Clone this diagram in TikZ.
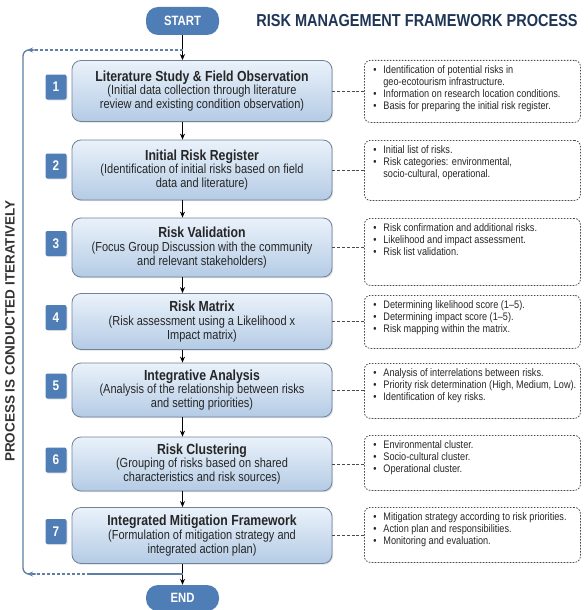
\documentclass[tikz,border=0pt]{standalone}
\usepackage{fontspec}
\setmainfont{Liberation Sans}[FakeStretch=0.84]
\newfontfamily\plainsans{Liberation Sans}
\usetikzlibrary{arrows.meta, shadows}

\definecolor{stepblue}{HTML}{4F7DB5}
\definecolor{boxtop}{HTML}{EAF2FA}
\definecolor{boxbottom}{HTML}{B4CBE5}
\definecolor{boxline}{HTML}{71829A}
\definecolor{loopblue}{HTML}{5E7FA5}
\definecolor{titlenavy}{HTML}{1F3556}
\definecolor{notegray}{HTML}{4A4A4A}

% bullet lines for the side notes
\newcommand{\bitem}[1]{\noindent\makebox[10pt][l]{\textbullet}\mbox{#1}\par}
\newcommand{\bcont}[1]{\noindent\hspace*{10pt}\mbox{#1}\par}
\newcommand{\notetext}[2]{\parbox[c][#1][t]{198pt}{\fontsize{10.9}{12}\selectfont #2}}
\newcommand{\steptitle}[1]{{\bfseries\fontsize{14.6}{13.5}\selectfont #1}}

\begin{document}
\begin{tikzpicture}[x=1pt, y=-1pt,
    stepbox/.style={draw=boxline, line width=0.8pt, rounded corners=9pt,
        top color=boxtop, bottom color=boxbottom,
        minimum width=260pt, align=center, inner sep=2pt,
        drop shadow={opacity=0.25, shadow xshift=1.2pt, shadow yshift=-1.2pt},
        font=\fontsize{13.1}{13.8}\selectfont, text=black!85},
    numbox/.style={fill=stepblue, text=white, rounded corners=2pt,
        minimum width=21pt, minimum height=25pt, inner sep=0pt,
        font=\bfseries\fontsize{14}{14}\selectfont,
        drop shadow={opacity=0.2, shadow xshift=1pt, shadow yshift=-1pt}},
    pill/.style={fill=stepblue, text=white, rounded corners=12pt,
        minimum width=73pt, minimum height=28pt, inner sep=0pt,
        font=\bfseries\fontsize{13.5}{13.5}\selectfont},
    note/.style={draw=notegray, dash pattern=on 1.6pt off 1.4pt, line width=0.8pt,
        rounded corners=6pt, inner xsep=9pt, inner ysep=5pt, anchor=north west,
        text=black!85},
    arrow/.style={-{Stealth[length=6pt, width=5pt]}, line width=1pt, black},
    link/.style={draw=notegray, dash pattern=on 3pt off 1.8pt, line width=0.9pt},
    loopline/.style={draw=loopblue, line width=1.3pt},
    loopdash/.style={loopline, dash pattern=on 3pt off 2pt, -{Stealth[length=6pt, width=5pt]}}]

    \useasboundingbox (0,0) rectangle (588,610);

    % -- Start, end and title --
    \node[pill] (start) at (182.5,21) {START};
    \node[pill, minimum height=26pt] (end) at (182.5,598) {END};
    \node[text=titlenavy, font=\bfseries\fontsize{17.3}{19}\selectfont] (title) at (417,21)
        {RISK MANAGEMENT FRAMEWORK PROCESS};

    % -- Process steps --
    \node[stepbox, minimum height=61pt] (s1) at (202,91) {\steptitle{Literature Study \& Field Observation}\\
        (Initial data collection through literature\\review and existing condition observation)};
    \node[stepbox, minimum height=60pt] (s2) at (202,170) {\steptitle{Initial Risk Register}\\
        (Identification of initial risks based on field\\data and literature)};
    \node[stepbox, minimum height=59pt] (s3) at (202,247.5) {\steptitle{Risk Validation}\\
        (Focus Group Discussion with the community\\and relevant stakeholders)};
    \node[stepbox, minimum height=56pt] (s4) at (202,321.5) {\steptitle{Risk Matrix}\\
        (Risk assessment using a Likelihood x\\Impact matrix)};
    \node[stepbox, minimum height=54pt] (s5) at (202,390) {\steptitle{Integrative Analysis}\\
        (Analysis of the relationship between risks\\and setting priorities)};
    \node[stepbox, minimum height=54pt] (s6) at (202,464) {\steptitle{Risk Clustering}\\
        (Grouping of risks based on shared\\characteristics and risk sources)};
    \node[stepbox, minimum height=56pt] (s7) at (202,535.5) {\steptitle{Integrated Mitigation Framework}\\
        (Formulation of mitigation strategy and\\integrated action plan)};

    % -- Step numbers --
    \foreach \i in {1,...,7} {
        \node[numbox, yshift=4pt] (num\i) at (56,0 |- s\i) {\i};
    }

    % -- Side notes --
    \node[note] (n1) at (364,60) {\notetext{52pt}{%
        \bitem{Identification of potential risks in}
        \bcont{geo-ecotourism infrastructure.}
        \bitem{Information on research location conditions.}
        \bitem{Basis for preparing the initial risk register.}}};
    \node[note] (n2) at (364,140) {\notetext{50pt}{%
        \bitem{Initial list of risks.}
        \bitem{Risk categories: environmental,}
        \bcont{socio-cultural, operational.}}};
    \node[note] (n3) at (364,218) {\notetext{57pt}{%
        \bitem{Risk confirmation and additional risks.}
        \bitem{Likelihood and impact assessment.}
        \bitem{Risk list validation.}}};
    \node[note] (n4) at (364,295) {\notetext{43pt}{%
        \bitem{Determining likelihood score (1--5).}
        \bitem{Determining impact score (1--5).}
        \bitem{Risk mapping within the matrix.}}};
    \node[note] (n5) at (364,363) {\notetext{45pt}{%
        \bitem{Analysis of interrelations between risks.}
        \bitem{Priority risk determination (High, Medium, Low).}
        \bitem{Identification of key risks.}}};
    \node[note] (n6) at (364,435) {\notetext{45pt}{%
        \bitem{Environmental cluster.}
        \bitem{Socio-cultural cluster.}
        \bitem{Operational cluster.}}};
    \node[note] (n7) at (364,507) {\notetext{45pt}{%
        \bitem{Mitigation strategy according to risk priorities.}
        \bitem{Action plan and responsibilities.}
        \bitem{Monitoring and evaluation.}}};

    % -- Flow arrows --
    \draw[arrow] (start) -- (s1.north -| start);
    \foreach \a/\b in {s1/s2, s2/s3, s3/s4, s4/s5, s5/s6, s6/s7} {
        \draw[arrow] (\a.south -| start) -- (\b.north -| start);
    }
    \draw[arrow] (s7.south -| end) -- (end);

    % -- Links to side notes --
    \foreach \i in {1,...,7} {
        \draw[link] (s\i.east) -- (s\i.east -| n\i.west);
    }

    % -- Iteration loop --
    \coordinate (looptop) at (182.5,50);
    \coordinate (loopbot) at (182.5,574);
    \coordinate (loopmid) at (90,574);
    \draw[loopline, rounded corners=6pt] (36,574) -- (23,574) -- (23,50) -- (36,50);
    \draw[loopdash] (looptop) -- (27,50);
    \draw[loopline] (loopbot) -- (loopmid);
    \draw[loopdash] (loopmid) -- (27,574);
    \node[rotate=90, text=black!80, font=\plainsans\bfseries\fontsize{13.5}{15}\selectfont]
        (iterate) at (10,331) {PROCESS IS CONDUCTED ITERATIVELY};
\end{tikzpicture}
\end{document}
